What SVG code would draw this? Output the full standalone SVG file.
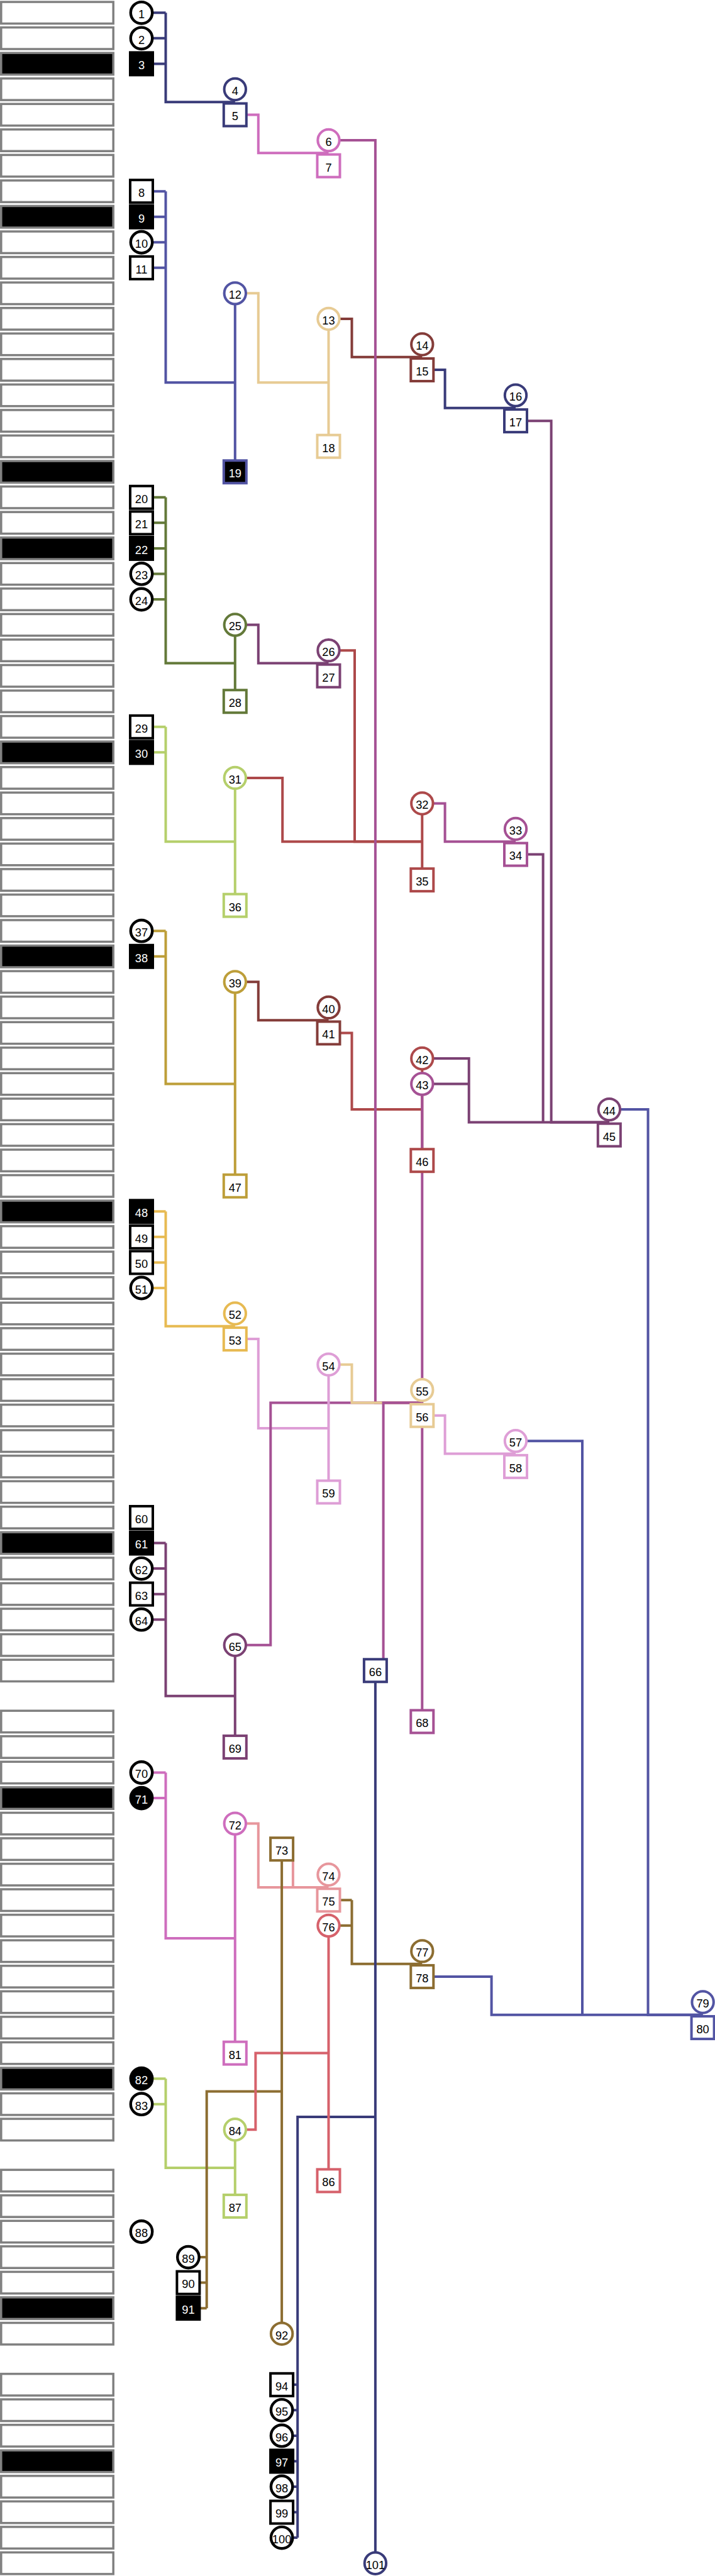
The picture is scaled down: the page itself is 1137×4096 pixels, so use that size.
<svg xmlns="http://www.w3.org/2000/svg" xmlns:xlink="http://www.w3.org/1999/xlink" width="1137" height="4096" viewBox="0 0 1137 4096">
<style>
.bar{fill:#fff;stroke:#808080;stroke-width:3.5}
.bara{fill:#000;stroke:#808080;stroke-width:3.5}
.node circle,.node rect{fill:#fff;stroke-width:4}
.node .k{stroke:#000;stroke-width:4.4}
.node rect.k{stroke-width:4}
.node .f{fill:#000}
.node text{font-family:"Liberation Sans",Arial,sans-serif;font-size:18.3px;text-anchor:middle;fill:#000}
.node text.w{fill:#fff}
.c path{fill:none;stroke-width:4;stroke-linejoin:miter;stroke-linecap:butt}
.navy{stroke:#393b79}.indigo{stroke:#5254a3}.olive{stroke:#637939}.lgreen{stroke:#b5cf6b}
.brown{stroke:#8c6d31}.gold{stroke:#bd9e39}.yellow{stroke:#e7ba52}.tan{stroke:#e7cb94}
.bred{stroke:#843c39}.red{stroke:#ad494a}.coral{stroke:#d6616b}.salmon{stroke:#e7969c}
.plum{stroke:#7b4173}.magenta{stroke:#a55194}.orchid{stroke:#ce6dbd}.lilac{stroke:#de9ed6}
</style>
<defs>
<rect id="b" class="bar" x="1.8" y="-17.2" width="178.4" height="34.4"/>
<rect id="ba" class="bara" x="1.8" y="-17.2" width="178.4" height="34.4"/>
</defs>
<rect width="1137" height="4096" fill="#fff"/>
<g id="bars">
<use href="#b" y="20.28"/><use href="#b" y="60.83"/><use href="#ba" y="101.39"/><use href="#b" y="141.94"/><use href="#b" y="182.49"/><use href="#b" y="223.05"/><use href="#b" y="263.6"/><use href="#b" y="304.16"/><use href="#ba" y="344.71"/><use href="#b" y="385.26"/>
<use href="#b" y="425.82"/><use href="#b" y="466.37"/><use href="#b" y="506.93"/><use href="#b" y="547.48"/><use href="#b" y="588.03"/><use href="#b" y="628.59"/><use href="#b" y="669.14"/><use href="#b" y="709.7"/><use href="#ba" y="750.25"/><use href="#b" y="790.8"/>
<use href="#b" y="831.36"/><use href="#ba" y="871.91"/><use href="#b" y="912.47"/><use href="#b" y="953.02"/><use href="#b" y="993.57"/><use href="#b" y="1034.13"/><use href="#b" y="1074.68"/><use href="#b" y="1115.24"/><use href="#b" y="1155.79"/><use href="#ba" y="1196.34"/>
<use href="#b" y="1236.9"/><use href="#b" y="1277.45"/><use href="#b" y="1318.01"/><use href="#b" y="1358.56"/><use href="#b" y="1399.11"/><use href="#b" y="1439.67"/><use href="#b" y="1480.22"/><use href="#ba" y="1520.78"/><use href="#b" y="1561.33"/><use href="#b" y="1601.88"/>
<use href="#b" y="1642.44"/><use href="#b" y="1682.99"/><use href="#b" y="1723.55"/><use href="#b" y="1764.1"/><use href="#b" y="1804.65"/><use href="#b" y="1845.21"/><use href="#b" y="1885.76"/><use href="#ba" y="1926.32"/><use href="#b" y="1966.87"/><use href="#b" y="2007.42"/>
<use href="#b" y="2047.98"/><use href="#b" y="2088.53"/><use href="#b" y="2129.09"/><use href="#b" y="2169.64"/><use href="#b" y="2210.19"/><use href="#b" y="2250.75"/><use href="#b" y="2291.3"/><use href="#b" y="2331.86"/><use href="#b" y="2372.41"/><use href="#b" y="2412.96"/>
<use href="#ba" y="2453.52"/><use href="#b" y="2494.07"/><use href="#b" y="2534.63"/><use href="#b" y="2575.18"/><use href="#b" y="2615.73"/><use href="#b" y="2656.29"/>
<use href="#b" y="2737.4"/><use href="#b" y="2777.95"/><use href="#b" y="2818.5"/><use href="#ba" y="2859.06"/><use href="#b" y="2899.61"/><use href="#b" y="2940.17"/><use href="#b" y="2980.72"/><use href="#b" y="3021.27"/><use href="#b" y="3061.83"/><use href="#b" y="3102.38"/>
<use href="#b" y="3142.94"/><use href="#b" y="3183.49"/><use href="#b" y="3224.04"/><use href="#b" y="3264.6"/><use href="#ba" y="3305.15"/><use href="#b" y="3345.71"/><use href="#b" y="3386.26"/>
<use href="#b" y="3467.37"/><use href="#b" y="3507.92"/><use href="#b" y="3548.48"/><use href="#b" y="3589.03"/><use href="#b" y="3629.58"/><use href="#ba" y="3670.14"/><use href="#b" y="3710.69"/>
<use href="#b" y="3791.8"/><use href="#b" y="3832.35"/><use href="#b" y="3872.91"/><use href="#ba" y="3913.46"/><use href="#b" y="3954.02"/><use href="#b" y="3994.57"/><use href="#b" y="4035.12"/><use href="#b" y="4075.68"/>
</g>
<g id="connectors" class="c">
<path class="navy" d="M225 20.28H263.5M225 60.83H263.5M225 101.39H263.5M263.5 20.28V162.22H373.8"/>
<path class="navy" d="M671.3 588.03H707.6V648.86H820"/>
<path class="navy" d="M448.1 3791.8H473.2M448.1 3832.35H473.2M448.1 3872.91H473.2M448.1 3913.46H473.2M448.1 3954.02H473.2M448.1 3994.57H473.2M448.1 4035.12H473.2M473.2 4035.12V3365.98H596.9"/>
<path class="orchid" d="M373.8 182.49H410.8V243.32H522.5"/>
<path class="orchid" d="M225 2818.5H263.5M225 2859.06H263.5M263.5 2818.5V3082.1H373.8"/>
<path class="indigo" d="M225 304.16H263.5M225 344.71H263.5M225 385.26H263.5M225 425.82H263.5M263.5 304.16V608.31H373.8"/>
<path class="indigo" d="M968.8 1764.1H1030.5V3203.77H1117.6"/>
<path class="indigo" d="M820 2291.3H926V3203.77"/>
<path class="indigo" d="M671.3 3142.94H781.6V3203.77H1117.6"/>
<path class="tan" d="M373.8 466.37H410.8V608.31H522.5"/>
<path class="bred" d="M522.5 506.93H559.5V567.76H671.3"/>
<path class="bred" d="M373.8 1561.33H410.8V1622.16H522.5"/>
<path class="plum" d="M820 669.14H876.6V1784.38H968.8"/>
<path class="plum" d="M820 1358.56H863.6V1784.38"/>
<path class="plum" d="M671.3 1682.99H745.7V1784.38H968.8M671.3 1723.55H745.7"/>
<path class="plum" d="M373.8 993.57H410.8V1054.4H522.5"/>
<path class="plum" d="M225 2453.52H263.5M225 2494.07H263.5M225 2534.63H263.5M225 2575.18H263.5M263.5 2453.52V2696.84H373.8"/>
<path class="olive" d="M225 790.8H263.5M225 831.36H263.5M225 871.91H263.5M225 912.47H263.5M225 953.02H263.5M263.5 790.8V1054.4H373.8"/>
<path class="red" d="M522.5 1034.13H564V1338.28H671.3"/>
<path class="red" d="M373.8 1236.9H449.2V1338.28H671.3"/>
<path class="red" d="M522.5 1642.44H559.5V1764.1H671.3"/>
<path class="lgreen" d="M225 1155.79H263.5M225 1196.34H263.5M263.5 1155.79V1338.28H373.8"/>
<path class="lgreen" d="M225 3305.15H263.5M225 3345.71H263.5M263.5 3305.15V3447.09H373.8"/>
<path class="gold" d="M225 1480.22H263.5M225 1520.78H263.5M263.5 1480.22V1723.55H373.8"/>
<path class="yellow" d="M225 1926.32H263.5M225 1966.87H263.5M225 2007.42H263.5M225 2047.98H263.5M263.5 1926.32V2108.81H373.8"/>
<path class="lilac" d="M373.8 2129.09H410.8V2271.02H522.5"/>
<path class="lilac" d="M671.3 2250.75H707.6V2311.58H820"/>
<path class="salmon" d="M373.8 2899.61H410.8V3000.99H522.5M465.9 2940.17V3000.99"/>
<path class="brown" d="M522.5 3021.27H559.5M522.5 3061.83H559.5M559.5 3021.27V3122.66H671.3"/>
<path class="brown" d="M299.4 3589.03H328.7M299.4 3629.58H328.7M299.4 3670.14H328.7M328.7 3670.14V3325.43H448.1"/>
<path class="coral" d="M373.8 3386.26H406.4V3264.6H522.5"/>
<path class="magenta" d="M671.3 1277.45H707.6V1338.28H820"/>
<path class="magenta" d="M522.5 223.05H596.9V2230.47H671.3"/>
<path class="magenta" d="M373.8 2615.73H430.3V2230.47H671.3"/>
<path class="tan" d="M522.5 2169.64H559.5V2230.47H671.3"/>
<path class="magenta" d="M609.6 2656.29V2230.47H671.3"/>
<path class="indigo" d="M373.8 466.37V750.25"/>
<path class="tan" d="M522.5 506.93V709.7"/>
<path class="olive" d="M373.8 993.57V1115.24"/>
<path class="red" d="M671.3 1277.45V1399.11"/>
<path class="lgreen" d="M373.8 1236.9V1439.67"/>
<path class="gold" d="M373.8 1561.33V1885.76"/>
<path class="red" d="M671.3 1682.99V1845.21"/>
<path class="magenta" d="M671.3 1723.55V2737.4"/>
<path class="lilac" d="M522.5 2169.64V2372.41"/>
<path class="plum" d="M373.8 2615.73V2777.95"/>
<path class="orchid" d="M373.8 2899.61V3264.6"/>
<path class="coral" d="M522.5 3061.83V3467.37"/>
<path class="lgreen" d="M373.8 3386.26V3507.92"/>
<path class="brown" d="M448.1 2940.17V3710.69"/>
<path class="navy" d="M596.9 2656.29V4075.68"/>
</g>
<g id="nodes">
<g id="n1" class="node" transform="translate(225 20.28)"><circle class="k" r="17.2"/><text y="8.9">1</text></g>
<g id="n2" class="node" transform="translate(225 60.83)"><circle class="k" r="17.2"/><text y="8.9">2</text></g>
<g id="n3" class="node" transform="translate(225 101.39)"><rect class="k f" x="-18" y="-18" width="36" height="36"/><text class="w" y="8.9">3</text></g>
<g id="n4" class="node" transform="translate(373.8 141.94)"><circle class="navy" r="17.2"/><text y="8.9">4</text></g>
<g id="n5" class="node" transform="translate(373.8 182.49)"><rect class="navy" x="-18" y="-18" width="36" height="36"/><text y="8.9">5</text></g>
<g id="n6" class="node" transform="translate(522.5 223.05)"><circle class="orchid" r="17.2"/><text y="8.9">6</text></g>
<g id="n7" class="node" transform="translate(522.5 263.6)"><rect class="orchid" x="-18" y="-18" width="36" height="36"/><text y="8.9">7</text></g>
<g id="n8" class="node" transform="translate(225 304.16)"><rect class="k" x="-18" y="-18" width="36" height="36"/><text y="8.9">8</text></g>
<g id="n9" class="node" transform="translate(225 344.71)"><rect class="k f" x="-18" y="-18" width="36" height="36"/><text class="w" y="8.9">9</text></g>
<g id="n10" class="node" transform="translate(225 385.26)"><circle class="k" r="17.2"/><text y="8.9">10</text></g>
<g id="n11" class="node" transform="translate(225 425.82)"><rect class="k" x="-18" y="-18" width="36" height="36"/><text y="8.9">11</text></g>
<g id="n12" class="node" transform="translate(373.8 466.37)"><circle class="indigo" r="17.2"/><text y="8.9">12</text></g>
<g id="n13" class="node" transform="translate(522.5 506.93)"><circle class="tan" r="17.2"/><text y="8.9">13</text></g>
<g id="n14" class="node" transform="translate(671.3 547.48)"><circle class="bred" r="17.2"/><text y="8.9">14</text></g>
<g id="n15" class="node" transform="translate(671.3 588.03)"><rect class="bred" x="-18" y="-18" width="36" height="36"/><text y="8.9">15</text></g>
<g id="n16" class="node" transform="translate(820 628.59)"><circle class="navy" r="17.2"/><text y="8.9">16</text></g>
<g id="n17" class="node" transform="translate(820 669.14)"><rect class="navy" x="-18" y="-18" width="36" height="36"/><text y="8.9">17</text></g>
<g id="n18" class="node" transform="translate(522.5 709.7)"><rect class="tan" x="-18" y="-18" width="36" height="36"/><text y="8.9">18</text></g>
<g id="n19" class="node" transform="translate(373.8 750.25)"><rect class="indigo f" x="-18" y="-18" width="36" height="36"/><text class="w" y="8.9">19</text></g>
<g id="n20" class="node" transform="translate(225 790.8)"><rect class="k" x="-18" y="-18" width="36" height="36"/><text y="8.9">20</text></g>
<g id="n21" class="node" transform="translate(225 831.36)"><rect class="k" x="-18" y="-18" width="36" height="36"/><text y="8.9">21</text></g>
<g id="n22" class="node" transform="translate(225 871.91)"><rect class="k f" x="-18" y="-18" width="36" height="36"/><text class="w" y="8.9">22</text></g>
<g id="n23" class="node" transform="translate(225 912.47)"><circle class="k" r="17.2"/><text y="8.9">23</text></g>
<g id="n24" class="node" transform="translate(225 953.02)"><circle class="k" r="17.2"/><text y="8.9">24</text></g>
<g id="n25" class="node" transform="translate(373.8 993.57)"><circle class="olive" r="17.2"/><text y="8.9">25</text></g>
<g id="n26" class="node" transform="translate(522.5 1034.13)"><circle class="plum" r="17.2"/><text y="8.9">26</text></g>
<g id="n27" class="node" transform="translate(522.5 1074.68)"><rect class="plum" x="-18" y="-18" width="36" height="36"/><text y="8.9">27</text></g>
<g id="n28" class="node" transform="translate(373.8 1115.24)"><rect class="olive" x="-18" y="-18" width="36" height="36"/><text y="8.9">28</text></g>
<g id="n29" class="node" transform="translate(225 1155.79)"><rect class="k" x="-18" y="-18" width="36" height="36"/><text y="8.9">29</text></g>
<g id="n30" class="node" transform="translate(225 1196.34)"><rect class="k f" x="-18" y="-18" width="36" height="36"/><text class="w" y="8.9">30</text></g>
<g id="n31" class="node" transform="translate(373.8 1236.9)"><circle class="lgreen" r="17.2"/><text y="8.9">31</text></g>
<g id="n32" class="node" transform="translate(671.3 1277.45)"><circle class="red" r="17.2"/><text y="8.9">32</text></g>
<g id="n33" class="node" transform="translate(820 1318.01)"><circle class="magenta" r="17.2"/><text y="8.9">33</text></g>
<g id="n34" class="node" transform="translate(820 1358.56)"><rect class="magenta" x="-18" y="-18" width="36" height="36"/><text y="8.9">34</text></g>
<g id="n35" class="node" transform="translate(671.3 1399.11)"><rect class="red" x="-18" y="-18" width="36" height="36"/><text y="8.9">35</text></g>
<g id="n36" class="node" transform="translate(373.8 1439.67)"><rect class="lgreen" x="-18" y="-18" width="36" height="36"/><text y="8.9">36</text></g>
<g id="n37" class="node" transform="translate(225 1480.22)"><circle class="k" r="17.2"/><text y="8.9">37</text></g>
<g id="n38" class="node" transform="translate(225 1520.78)"><rect class="k f" x="-18" y="-18" width="36" height="36"/><text class="w" y="8.9">38</text></g>
<g id="n39" class="node" transform="translate(373.8 1561.33)"><circle class="gold" r="17.2"/><text y="8.9">39</text></g>
<g id="n40" class="node" transform="translate(522.5 1601.88)"><circle class="bred" r="17.2"/><text y="8.9">40</text></g>
<g id="n41" class="node" transform="translate(522.5 1642.44)"><rect class="bred" x="-18" y="-18" width="36" height="36"/><text y="8.9">41</text></g>
<g id="n42" class="node" transform="translate(671.3 1682.99)"><circle class="red" r="17.2"/><text y="8.9">42</text></g>
<g id="n43" class="node" transform="translate(671.3 1723.55)"><circle class="magenta" r="17.2"/><text y="8.9">43</text></g>
<g id="n44" class="node" transform="translate(968.8 1764.1)"><circle class="plum" r="17.2"/><text y="8.9">44</text></g>
<g id="n45" class="node" transform="translate(968.8 1804.65)"><rect class="plum" x="-18" y="-18" width="36" height="36"/><text y="8.9">45</text></g>
<g id="n46" class="node" transform="translate(671.3 1845.21)"><rect class="red" x="-18" y="-18" width="36" height="36"/><text y="8.9">46</text></g>
<g id="n47" class="node" transform="translate(373.8 1885.76)"><rect class="gold" x="-18" y="-18" width="36" height="36"/><text y="8.9">47</text></g>
<g id="n48" class="node" transform="translate(225 1926.32)"><rect class="k f" x="-18" y="-18" width="36" height="36"/><text class="w" y="8.9">48</text></g>
<g id="n49" class="node" transform="translate(225 1966.87)"><rect class="k" x="-18" y="-18" width="36" height="36"/><text y="8.9">49</text></g>
<g id="n50" class="node" transform="translate(225 2007.42)"><rect class="k" x="-18" y="-18" width="36" height="36"/><text y="8.9">50</text></g>
<g id="n51" class="node" transform="translate(225 2047.98)"><circle class="k" r="17.2"/><text y="8.9">51</text></g>
<g id="n52" class="node" transform="translate(373.8 2088.53)"><circle class="yellow" r="17.2"/><text y="8.9">52</text></g>
<g id="n53" class="node" transform="translate(373.8 2129.09)"><rect class="yellow" x="-18" y="-18" width="36" height="36"/><text y="8.9">53</text></g>
<g id="n54" class="node" transform="translate(522.5 2169.64)"><circle class="lilac" r="17.2"/><text y="8.9">54</text></g>
<g id="n55" class="node" transform="translate(671.3 2210.19)"><circle class="tan" r="17.2"/><text y="8.9">55</text></g>
<g id="n56" class="node" transform="translate(671.3 2250.75)"><rect class="tan" x="-18" y="-18" width="36" height="36"/><text y="8.9">56</text></g>
<g id="n57" class="node" transform="translate(820 2291.3)"><circle class="lilac" r="17.2"/><text y="8.9">57</text></g>
<g id="n58" class="node" transform="translate(820 2331.86)"><rect class="lilac" x="-18" y="-18" width="36" height="36"/><text y="8.9">58</text></g>
<g id="n59" class="node" transform="translate(522.5 2372.41)"><rect class="lilac" x="-18" y="-18" width="36" height="36"/><text y="8.9">59</text></g>
<g id="n60" class="node" transform="translate(225 2412.96)"><rect class="k" x="-18" y="-18" width="36" height="36"/><text y="8.9">60</text></g>
<g id="n61" class="node" transform="translate(225 2453.52)"><rect class="k f" x="-18" y="-18" width="36" height="36"/><text class="w" y="8.9">61</text></g>
<g id="n62" class="node" transform="translate(225 2494.07)"><circle class="k" r="17.2"/><text y="8.9">62</text></g>
<g id="n63" class="node" transform="translate(225 2534.63)"><rect class="k" x="-18" y="-18" width="36" height="36"/><text y="8.9">63</text></g>
<g id="n64" class="node" transform="translate(225 2575.18)"><circle class="k" r="17.2"/><text y="8.9">64</text></g>
<g id="n65" class="node" transform="translate(373.8 2615.73)"><circle class="plum" r="17.2"/><text y="8.9">65</text></g>
<g id="n66" class="node" transform="translate(596.9 2656.29)"><rect class="navy" x="-18" y="-18" width="36" height="36"/><text y="8.9">66</text></g>
<g id="n68" class="node" transform="translate(671.3 2737.4)"><rect class="magenta" x="-18" y="-18" width="36" height="36"/><text y="8.9">68</text></g>
<g id="n69" class="node" transform="translate(373.8 2777.95)"><rect class="plum" x="-18" y="-18" width="36" height="36"/><text y="8.9">69</text></g>
<g id="n70" class="node" transform="translate(225 2818.5)"><circle class="k" r="17.2"/><text y="8.9">70</text></g>
<g id="n71" class="node" transform="translate(225 2859.06)"><circle class="k f" r="17.2"/><text class="w" y="8.9">71</text></g>
<g id="n72" class="node" transform="translate(373.8 2899.61)"><circle class="orchid" r="17.2"/><text y="8.9">72</text></g>
<g id="n73" class="node" transform="translate(448.1 2940.17)"><rect class="brown" x="-18" y="-18" width="36" height="36"/><text y="8.9">73</text></g>
<g id="n74" class="node" transform="translate(522.5 2980.72)"><circle class="salmon" r="17.2"/><text y="8.9">74</text></g>
<g id="n75" class="node" transform="translate(522.5 3021.27)"><rect class="salmon" x="-18" y="-18" width="36" height="36"/><text y="8.9">75</text></g>
<g id="n76" class="node" transform="translate(522.5 3061.83)"><circle class="coral" r="17.2"/><text y="8.9">76</text></g>
<g id="n77" class="node" transform="translate(671.3 3102.38)"><circle class="brown" r="17.2"/><text y="8.9">77</text></g>
<g id="n78" class="node" transform="translate(671.3 3142.94)"><rect class="brown" x="-18" y="-18" width="36" height="36"/><text y="8.9">78</text></g>
<g id="n79" class="node" transform="translate(1117.6 3183.49)"><circle class="indigo" r="17.2"/><text y="8.9">79</text></g>
<g id="n80" class="node" transform="translate(1117.6 3224.04)"><rect class="indigo" x="-18" y="-18" width="36" height="36"/><text y="8.9">80</text></g>
<g id="n81" class="node" transform="translate(373.8 3264.6)"><rect class="orchid" x="-18" y="-18" width="36" height="36"/><text y="8.9">81</text></g>
<g id="n82" class="node" transform="translate(225 3305.15)"><circle class="k f" r="17.2"/><text class="w" y="8.9">82</text></g>
<g id="n83" class="node" transform="translate(225 3345.71)"><circle class="k" r="17.2"/><text y="8.9">83</text></g>
<g id="n84" class="node" transform="translate(373.8 3386.26)"><circle class="lgreen" r="17.2"/><text y="8.9">84</text></g>
<g id="n86" class="node" transform="translate(522.5 3467.37)"><rect class="coral" x="-18" y="-18" width="36" height="36"/><text y="8.9">86</text></g>
<g id="n87" class="node" transform="translate(373.8 3507.92)"><rect class="lgreen" x="-18" y="-18" width="36" height="36"/><text y="8.9">87</text></g>
<g id="n88" class="node" transform="translate(225 3548.48)"><circle class="k" r="17.2"/><text y="8.9">88</text></g>
<g id="n89" class="node" transform="translate(299.4 3589.03)"><circle class="k" r="17.2"/><text y="8.9">89</text></g>
<g id="n90" class="node" transform="translate(299.4 3629.58)"><rect class="k" x="-18" y="-18" width="36" height="36"/><text y="8.9">90</text></g>
<g id="n91" class="node" transform="translate(299.4 3670.14)"><rect class="k f" x="-18" y="-18" width="36" height="36"/><text class="w" y="8.9">91</text></g>
<g id="n92" class="node" transform="translate(448.1 3710.69)"><circle class="brown" r="17.2"/><text y="8.9">92</text></g>
<g id="n94" class="node" transform="translate(448.1 3791.8)"><rect class="k" x="-18" y="-18" width="36" height="36"/><text y="8.9">94</text></g>
<g id="n95" class="node" transform="translate(448.1 3832.35)"><circle class="k" r="17.2"/><text y="8.9">95</text></g>
<g id="n96" class="node" transform="translate(448.1 3872.91)"><circle class="k" r="17.2"/><text y="8.9">96</text></g>
<g id="n97" class="node" transform="translate(448.1 3913.46)"><rect class="k f" x="-18" y="-18" width="36" height="36"/><text class="w" y="8.9">97</text></g>
<g id="n98" class="node" transform="translate(448.1 3954.02)"><circle class="k" r="17.2"/><text y="8.9">98</text></g>
<g id="n99" class="node" transform="translate(448.1 3994.57)"><rect class="k" x="-18" y="-18" width="36" height="36"/><text y="8.9">99</text></g>
<g id="n100" class="node" transform="translate(448.1 4035.12)"><circle class="k" r="17.2"/><text y="8.9">100</text></g>
<g id="n101" class="node" transform="translate(596.9 4075.68)"><circle class="navy" r="17.2"/><text y="8.9">101</text></g>
</g>
</svg>
